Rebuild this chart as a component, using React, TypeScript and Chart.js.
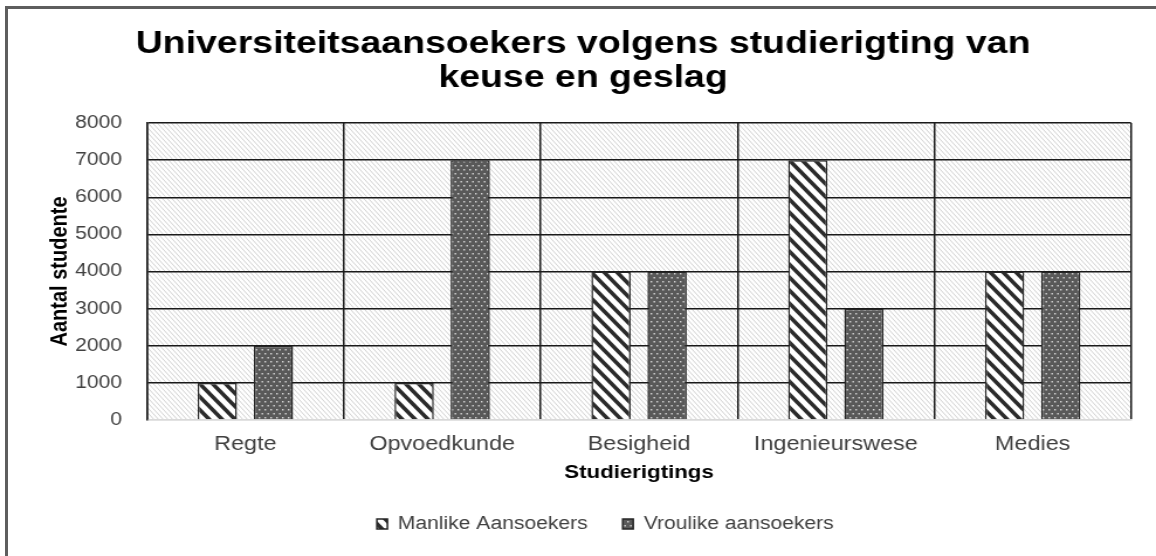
import React, { useEffect, useRef } from "react";
import { Chart, registerables } from "chart.js";

Chart.register(...registerables);

const categories = ["Regte", "Opvoedkunde", "Besigheid", "Ingenieurswese", "Medies"];
const manlike = [1000, 1000, 4000, 7000, 4000];
const vroulike = [2000, 7000, 4000, 3000, 4000];
const seriesNames = ["Manlike Aansoekers", "Vroulike aansoekers"];
const titleLines = ["Universiteitsaansoekers volgens studierigting van", "keuse en geslag"];
const yTitle = "Aantal studente";
const xTitle = "Studierigtings";

const STRETCH = 1.17;
const FULL_W = 1156;
const FULL_H = 556;
const W = Math.round(FULL_W / STRETCH);
const FONT = "'Liberation Sans', Arial, Helvetica, sans-serif";

function makeTile(w: number, h: number, draw: (g: CanvasRenderingContext2D) => void) {
  const c = document.createElement("canvas");
  c.width = w;
  c.height = h;
  const g = c.getContext("2d")!;
  draw(g);
  return c;
}

function diagTile(w: number, h: number, bg: string, fg: string, lw: number) {
  return makeTile(w, h, (g) => {
    g.fillStyle = bg;
    g.fillRect(0, 0, w, h);
    g.strokeStyle = fg;
    g.lineWidth = lw;
    g.beginPath();
    for (const o of [-w, 0, w]) {
      g.moveTo(o - w * 0.2, -h * 0.2);
      g.lineTo(o + w * 1.2, h * 1.2);
    }
    g.stroke();
  });
}

function dotTile() {
  return makeTile(5, 8, (g) => {
    g.fillStyle = "#595959";
    g.fillRect(0, 0, 5, 8);
    g.fillStyle = "#d4d4d4";
    g.fillRect(1, 1, 1.4, 1.5);
    g.fillRect(3.5, 5, 1.4, 1.5);
  });
}

export default function App() {
  const ref = useRef<HTMLCanvasElement | null>(null);

  useEffect(() => {
    document.body.style.margin = "0";
    const canvas = ref.current!;
    const ctx = canvas.getContext("2d")!;
    const bgPattern = ctx.createPattern(diagTile(4, 5, "#ffffff", "#d2d2d2", 1), "repeat")!;
    const malePattern = ctx.createPattern(diagTile(11, 13, "#ffffff", "#2b2b2b", 3.6), "repeat")!;
    const femalePattern = ctx.createPattern(dotTile(), "repeat")!;

    const plotBg = {
      id: "plotBg",
      beforeDraw(chart: any) {
        const a = chart.chartArea;
        const c = chart.ctx;
        c.save();
        c.fillStyle = bgPattern;
        c.fillRect(a.left, a.top, a.right - a.left, a.bottom - a.top);
        c.restore();
      },
    };

    const legendShift = {
      id: "legendShift",
      afterLayout(chart: any) {
        if (chart.legend) {
          chart.legend.left += 19;
          chart.legend.right += 19;
        }
      },
    };

    const chart = new Chart(canvas, {
      type: "bar",
      data: {
        labels: categories,
        datasets: [
          {
            label: seriesNames[0],
            data: manlike,
            backgroundColor: malePattern as any,
            borderColor: "#262626",
            borderWidth: 1.5,
            categoryPercentage: 0.57,
            barPercentage: 0.7,
          },
          {
            label: seriesNames[1],
            data: vroulike,
            backgroundColor: femalePattern as any,
            borderColor: "#262626",
            borderWidth: 1.5,
            categoryPercentage: 0.57,
            barPercentage: 0.7,
          },
        ],
      },
      options: {
        responsive: false,
        animation: false,
        devicePixelRatio: 1,
        layout: { padding: { top: 10, left: 30, right: W - 966.7, bottom: 13 } },
        font: { family: FONT },
        plugins: {
          title: {
            display: true,
            text: titleLines,
            color: "#000000",
            font: { family: FONT, size: 32, weight: "bold", lineHeight: 1.05 },
            padding: { top: 17.4, bottom: 28.4 },
          },
          legend: {
            position: "bottom",
            labels: {
              color: "#404040",
              font: { family: FONT, size: 18 },
              boxWidth: 9,
              boxHeight: 10,
              padding: 30,
            },
          },
          tooltip: { enabled: false },
        },
        scales: {
          x: {
            afterFit(scale: any) {
              scale.height = 65;
            },
            grid: {
              display: true,
              offset: true,
              color: "#1a1a1a",
              lineWidth: 1.5,
              drawTicks: false,
            },
            border: { display: true, color: "#d9d9d9", width: 1.5 },
            ticks: {
              color: "#404040",
              font: { family: FONT, size: 20 },
              padding: 12,
            },
            title: {
              display: true,
              text: xTitle,
              color: "#000000",
              font: { family: FONT, size: 19, weight: "bold" },
              padding: { top: 0, bottom: 0.6 },
            },
          },
          y: {
            min: 0,
            max: 8000,
            afterFit(scale: any) {
              scale.width = 125.6 - 30;
            },
            ticks: {
              stepSize: 1000,
              color: "#404040",
              font: { family: FONT, size: 18 },
              padding: 21.3,
              callback: (v: any) => String(v),
            },
            grid: {
              color: (c: any) => (c.tick && c.tick.value === 0 ? "#d9d9d9" : "#1a1a1a"),
              lineWidth: 1.5,
              drawTicks: false,
            },
            border: { display: true, color: "#1a1a1a", width: 1.5 },
            title: {
              display: true,
              text: yTitle,
              color: "#000000",
              font: { family: FONT, size: 20, weight: "bold" },
              padding: { top: 9.3, bottom: 0 },
            },
          },
        },
      },
      plugins: [plotBg, legendShift],
    });
    return () => chart.destroy();
  }, []);

  return (
    <div
      style={{
        position: "fixed",
        left: 0,
        top: 0,
        width: FULL_W,
        height: FULL_H,
        overflow: "hidden",
        background: "#ffffff",
      }}
    >
      <div
        style={{
          position: "absolute",
          left: 5,
          top: 6,
          width: FULL_W + 40,
          height: FULL_H + 40,
          border: "3px solid #5e5e5e",
          boxSizing: "border-box",
        }}
      />
      <canvas
        ref={ref}
        width={W}
        height={FULL_H}
        style={{ position: "absolute", left: 0, top: 0, width: FULL_W + "px", height: FULL_H + "px" }}
      />
    </div>
  );
}
